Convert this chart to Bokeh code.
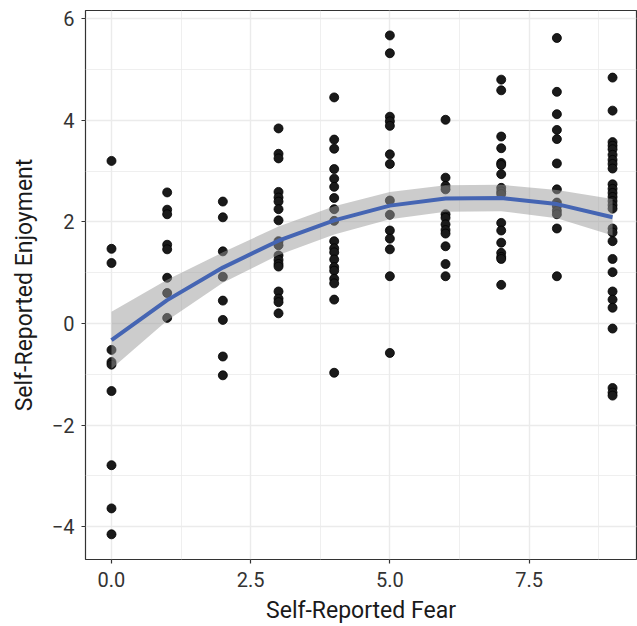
import numpy as np
from bokeh.plotting import figure
from bokeh.models import FixedTicker, NumeralTickFormatter, ColumnDataSource
from bokeh.embed import file_html
from bokeh.resources import INLINE

# Self-reported enjoyment values at each level of self-reported fear
fear_levels = [0, 1, 2, 3, 4, 5, 6, 7, 8, 9]
enjoy_f0 = [3.20, 1.47, 1.19, -0.52, -0.76, -0.81, -1.33, -2.79, -3.64, -4.15]
enjoy_f1 = [2.58, 2.24, 2.15, 1.55, 1.46, 0.90, 0.60, 0.11]
enjoy_f2 = [2.40, 2.09, 1.42, 0.92, 0.45, 0.07, -0.65, -1.02]
enjoy_f3 = [3.84, 3.34, 3.25, 2.59, 2.48, 2.40, 2.25, 2.03, 1.62, 1.54, 1.34, 1.25,
            1.17, 1.12, 0.63, 0.49, 0.42, 0.20]
enjoy_f4 = [4.45, 3.62, 3.44, 3.04, 2.85, 2.69, 2.47, 2.25, 2.02, 1.62, 1.48, 1.40,
            1.26, 1.11, 1.04, 0.88, 0.79, 0.47, -0.97]
enjoy_f5 = [5.67, 5.32, 4.07, 3.98, 3.89, 3.33, 3.14, 2.42, 2.14, 1.83, 1.67, 1.46,
            0.93, -0.58]
enjoy_f6 = [4.01, 2.87, 2.71, 2.64, 2.15, 2.08, 1.95, 1.84, 1.77, 1.52, 1.17, 0.93]
enjoy_f7 = [4.80, 4.59, 3.68, 3.45, 3.16, 3.12, 2.94, 2.67, 2.60, 2.55, 1.98, 1.83,
            1.59, 1.39, 1.31, 1.27, 0.76]
enjoy_f8 = [5.62, 4.56, 4.12, 3.81, 3.63, 3.15, 2.64, 2.38, 2.31, 2.22, 2.15, 1.87, 0.93]
enjoy_f9 = [4.84, 4.19, 3.57, 3.50, 3.43, 3.32, 3.22, 3.14, 3.05, 2.74, 2.65, 2.57,
            2.49, 2.41, 2.33, 2.26, 1.87, 1.79, 1.62, 1.27, 1.01, 0.63, 0.47, 0.31,
            -0.10, -1.27, -1.36, -1.42]

# smooth (quadratic lm) fit and half-width of its 95% band, read at each fear level
smooth_fit = [-0.33, 0.46, 1.10, 1.63, 2.03, 2.32, 2.46, 2.47, 2.35, 2.09]
smooth_halfwidth = [0.56, 0.40, 0.30, 0.28, 0.28, 0.27, 0.26, 0.26, 0.28, 0.36]

x_ticks = [0, 2.5, 5, 7.5]
x_minor = [1.25, 3.75, 6.25, 8.75]
y_ticks = [-4, -2, 0, 2, 4, 6]
y_minor = [-5, -3, -1, 1, 3, 5]
y_tick_labels = {-4: "\u22124", -2: "\u22122", 0: "0", 2: "2", 4: "4", 6: "6"}

groups = [enjoy_f0, enjoy_f1, enjoy_f2, enjoy_f3, enjoy_f4,
          enjoy_f5, enjoy_f6, enjoy_f7, enjoy_f8, enjoy_f9]
xs, ys = [], []
for lvl, vals in zip(fear_levels, groups):
    xs += [lvl] * len(vals)
    ys += vals

fit = np.array(smooth_fit)
hw = np.array(smooth_halfwidth)

FONT = "Roboto"

p = figure(width=637, height=626, x_range=(-0.467, 9.43), y_range=(-4.646, 6.161),
           output_backend="svg", toolbar_location=None,
           min_border_left=85, min_border_right=1, min_border_top=10, min_border_bottom=67)

p.background_fill_color = "white"
p.border_fill_color = "white"
p.outline_line_color = "#333333"
p.outline_line_width = 1.2

p.xaxis.ticker = FixedTicker(ticks=x_ticks, minor_ticks=x_minor)
p.yaxis.ticker = FixedTicker(ticks=y_ticks, minor_ticks=y_minor)
p.xaxis.formatter = NumeralTickFormatter(format="0.0")
p.yaxis.major_label_overrides = y_tick_labels

for g in (p.xgrid, p.ygrid):
    g.grid_line_color = "#EBEBEB"
    g.grid_line_width = 1.4
    g.minor_grid_line_color = "#EBEBEB"
    g.minor_grid_line_width = 0.8

for ax in (p.xaxis, p.yaxis):
    ax.axis_line_color = None
    ax.major_tick_in = 0
    ax.major_tick_out = 4
    ax.major_tick_line_color = "#333333"
    ax.major_tick_line_width = 1.2
    ax.minor_tick_in = 0
    ax.minor_tick_out = 0
    ax.major_label_text_font = FONT
    ax.major_label_text_font_size = "20px"
    ax.major_label_text_color = "#333333"
    ax.axis_label_text_font = FONT
    ax.axis_label_text_font_size = "23px"
    ax.axis_label_text_font_style = "normal"
    ax.axis_label_text_color = "#1a1a1a"

p.xaxis.axis_label = "Self-Reported Fear"
p.yaxis.axis_label = "Self-Reported Enjoyment"
p.xaxis.major_label_standoff = 8
p.yaxis.major_label_standoff = 7
p.xaxis.axis_label_standoff = 7
p.yaxis.axis_label_standoff = 11

src = ColumnDataSource(dict(x=xs, y=ys))
p.scatter("x", "y", source=src, size=9, fill_color="#1a1a1a", line_color="#000000",
          line_width=0.8)

band = ColumnDataSource(dict(x=fear_levels, lo=fit - hw, hi=fit + hw, fit=fit))
p.varea(x="x", y1="lo", y2="hi", source=band, fill_color="#999999", fill_alpha=0.5)
p.line(x="x", y="fit", source=band, line_color="#4565B3", line_width=4,
       line_join="round")

open("out.html", "w").write(file_html(p, INLINE))
